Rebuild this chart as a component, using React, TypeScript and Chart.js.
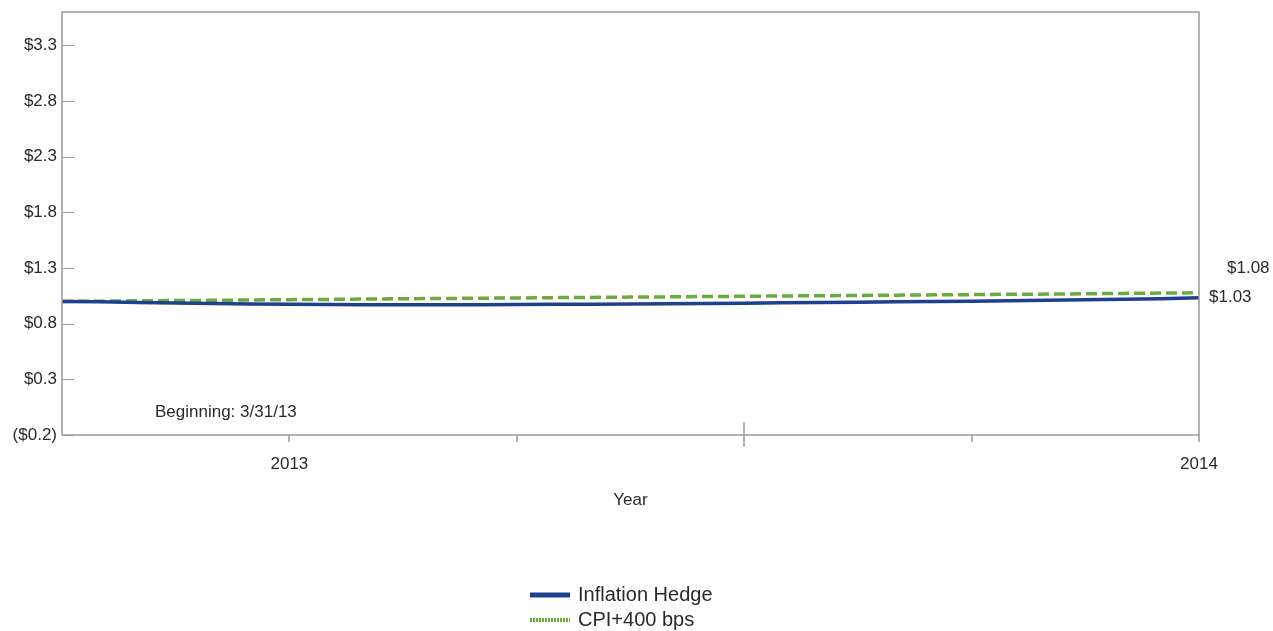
import React, { useEffect, useRef } from 'react';
import { Chart, registerables } from 'chart.js';

Chart.register(...registerables);

// Semi-monthly observations, months since the beginning (3/31/13 baseline)
const inflationHedge = [
  1.000, 0.996, 0.991, 0.986, 0.981, 0.977, 0.974, 0.972, 0.971, 0.970,
  0.970, 0.971, 0.972, 0.974, 0.975, 0.977, 0.979, 0.981, 0.984, 0.987,
  0.990, 0.993, 0.996, 0.999, 1.002, 1.006, 1.010, 1.014, 1.019, 1.024,
  1.033,
];
const cpiPlus400 = [
  1.000, 1.002, 1.005, 1.008, 1.010, 1.013, 1.016, 1.018, 1.021, 1.024,
  1.026, 1.029, 1.031, 1.034, 1.036, 1.039, 1.041, 1.044, 1.046, 1.049,
  1.051, 1.054, 1.056, 1.059, 1.061, 1.064, 1.066, 1.069, 1.072, 1.075,
  1.078,
];
const yTickValues = [-0.2, 0.3, 0.8, 1.3, 1.8, 2.3, 2.8, 3.3];
const xTickValues = [3, 6, 9, 12, 15];
const xTickLabels: Record<number, string> = { 3: '2013', 15: '2014' };
const seriesNames = ['Inflation Hedge', 'CPI+400 bps'];
const endLabels = ['$1.03', '$1.08'];
const beginningLabel = 'Beginning: 3/31/13';
const xAxisTitle = 'Year';

const BLUE = '#1f3f8f';
const GREEN = '#6aab3b';
const AXIS = '#9a9a9a';
const TEXT = '#2a2a2a';
const FONT = '"Liberation Sans", Arial, sans-serif';

const fmtMoney = (v: number) => {
  const s = '$' + Math.abs(v).toFixed(1);
  return v < 0 ? '(' + s + ')' : s;
};

export default function App() {
  const ref = useRef<HTMLCanvasElement | null>(null);

  useEffect(() => {
    if (!ref.current) return;
    const toXY = (arr: number[]) => arr.map((v, i) => ({ x: i * 0.5, y: v }));

    const overlay = {
      id: 'overlay',
      afterDraw(chart: any) {
        const ctx = chart.ctx as CanvasRenderingContext2D;
        const { left, right, top, bottom } = chart.chartArea;
        const xs = chart.scales.x;
        const ys = chart.scales.y;
        ctx.save();
        // frame
        ctx.strokeStyle = AXIS;
        ctx.lineWidth = 1.5;
        ctx.strokeRect(left, top, right - left, bottom - top);
        // y ticks (inward)
        ctx.lineWidth = 1;
        yTickValues.forEach((v) => {
          const py = Math.round(ys.getPixelForValue(v)) + 0.5;
          ctx.beginPath();
          ctx.moveTo(left, py);
          ctx.lineTo(left + 12, py);
          ctx.stroke();
        });
        // x ticks
        ctx.lineWidth = 1.5;
        xTickValues.forEach((v) => {
          const px = Math.round(xs.getPixelForValue(v));
          ctx.beginPath();
          if (v === 9) {
            ctx.moveTo(px, bottom - 13);
            ctx.lineTo(px, bottom + 12);
          } else {
            ctx.moveTo(px, bottom);
            ctx.lineTo(px, bottom + 7);
          }
          ctx.stroke();
        });
        // texts
        ctx.fillStyle = TEXT;
        ctx.textBaseline = 'middle';
        ctx.font = '17px ' + FONT;
        ctx.textAlign = 'left';
        ctx.fillText(beginningLabel, left + 93, bottom - 23);
        const blueEnd = ys.getPixelForValue(inflationHedge[inflationHedge.length - 1]);
        const greenEnd = ys.getPixelForValue(cpiPlus400[cpiPlus400.length - 1]);
        ctx.fillText(endLabels[0], right + 10, blueEnd);
        ctx.fillText(endLabels[1], right + 28, greenEnd - 24);
        ctx.textAlign = 'center';
        ctx.fillText(xAxisTitle, (left + right) / 2, 500);
        // legend
        const lx = 530;
        ctx.textAlign = 'left';
        ctx.font = '20px ' + FONT;
        ctx.strokeStyle = BLUE;
        ctx.lineWidth = 5;
        ctx.beginPath();
        ctx.moveTo(lx, 595);
        ctx.lineTo(lx + 40, 595);
        ctx.stroke();
        ctx.fillText(seriesNames[0], lx + 48, 595);
        ctx.strokeStyle = GREEN;
        ctx.lineWidth = 4;
        ctx.setLineDash([2, 1]);
        ctx.beginPath();
        ctx.moveTo(lx, 620);
        ctx.lineTo(lx + 40, 620);
        ctx.stroke();
        ctx.setLineDash([]);
        ctx.fillText(seriesNames[1], lx + 48, 620);
        ctx.restore();
      },
    };

    const chart = new Chart(ref.current, {
      type: 'line',
      data: {
        datasets: [
          {
            label: seriesNames[0],
            data: toXY(inflationHedge),
            borderColor: BLUE,
            borderWidth: 3.5,
            pointRadius: 0,
            tension: 0,
          },
          {
            label: seriesNames[1],
            data: toXY(cpiPlus400),
            borderColor: GREEN,
            borderWidth: 3.5,
            borderDash: [11, 5],
            pointRadius: 0,
            tension: 0,
          },
        ],
      },
      options: {
        animation: false,
        responsive: false,
        layout: { padding: { top: 12, right: 74, left: 0, bottom: 0 } },
        plugins: { legend: { display: false }, tooltip: { enabled: false } },
        scales: {
          x: {
            type: 'linear',
            min: 0,
            max: 15,
            afterBuildTicks: (s: any) => {
              s.ticks = xTickValues.map((v) => ({ value: v }));
            },
            afterFit: (s: any) => {
              s.height = 196;
              s.paddingLeft = 0;
              s.paddingRight = 0;
            },
            grid: { display: false, drawTicks: false },
            border: { display: false },
            ticks: {
              autoSkip: false,
              maxRotation: 0,
              padding: 19,
              color: TEXT,
              font: { family: FONT, size: 17 },
              callback: (v: any) => xTickLabels[v as number] ?? '',
            },
          },
          y: {
            type: 'linear',
            min: -0.2,
            max: 3.6,
            afterBuildTicks: (s: any) => {
              s.ticks = yTickValues.map((v) => ({ value: v }));
            },
            afterFit: (s: any) => {
              s.width = 62;
              s.paddingTop = 0;
              s.paddingBottom = 0;
            },
            grid: { display: false, drawTicks: false },
            border: { display: false },
            ticks: {
              padding: 5,
              color: TEXT,
              font: { family: FONT, size: 17 },
              callback: (v: any) => fmtMoney(v as number),
            },
          },
        },
      },
      plugins: [overlay],
    } as any);
    return () => chart.destroy();
  }, []);

  return (
    <div style={{ position: 'fixed', left: 0, top: 0, width: 1273, height: 631, background: '#fff' }}>
      <canvas ref={ref} width={1273} height={631} style={{ display: 'block' }} />
    </div>
  );
}
